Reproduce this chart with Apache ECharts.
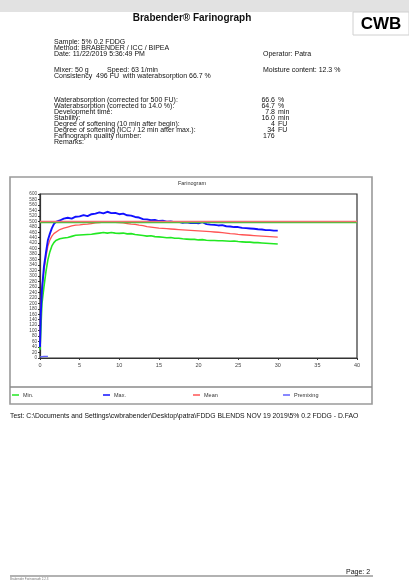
<!DOCTYPE html>
<html>
<head>
<meta charset="utf-8">
<script src="https://cdn.jsdelivr.net/npm/echarts@6/dist/echarts.min.js"></script>
<style>
html,body{margin:0;padding:0;background:#fff;}
#c{width:409px;height:580px;}
</style>
</head>
<body>
<div id="c"></div>
<script>
// ---- data ----
var times = [0,0.1,0.25,0.5,0.75,1,1.25,1.5,1.75,2,2.5,3,3.5,4,4.5,5,5.5,6,6.5,7,7.5,8,8.5,9,9.5,10,10.5,11,11.5,12,12.5,13,13.5,14,14.5,15,15.5,16,16.5,17,17.5,18,18.5,19,19.5,20,20.5,21,21.5,22,22.5,23,23.5,24,24.5,25,25.5,26,26.5,27,27.5,28,28.5,29,29.5,30];
var maxVals = [40,160,250,335,385,432,455,475,490,498,503,510,513,510,517,518,523,519,526,528,533,529,535,530,531,526,528,522,521,516,514,508,507,504,505,501,502,499,500,497,498,495,496,494,495,493,497,490,488,487,485,486,482,481,479,479,476,475,474,473,471,470,468,468,466,466];
var meanVals = [60,170,260,320,370,410,432,446,455,462,470,475,479,483,486,487,489,490,492,494,495,497,498,497,496,495,494,492,490,489,486,484,481,479,477,475,474,473,472,471,470,469,468,467,466,465,464,463,462,461,460,459,457,455,454,452,451,450,449,448,447,446,445,444,443,442];
var minVals = [30,100,200,260,316,360,389,410,422,430,436,439,441,445,449,450,451,452,453,455,457,459,457,459,457,456,457,454,455,452,450,448,446,447,444,443,442,440,441,438,438,436,435,434,434,432,433,431,430,430,429,429,428,427,428,426,425,424,424,422,422,421,420,419,418,417];
var premixTimes = [0,0.5,1];
var premixVals = [4,6,6];
var refTarget = 500;
var refConsistency = 495;
var xTicks = {min:0,max:40,step:5};
var yTicks = {min:0,max:600,step:20};
var seriesNames = ['Min.','Max.','Mean','Premixing'];

var headerLeft = [
  ['Sample: 5% 0.2 FDDG', 42],
  ['Method: BRABENDER / ICC / BIPEA', 48],
  ['Date: 11/22/2019 5:36:49 PM', 54],
  ['Mixer: 50 g', 70],
  ['Consistency  496 FU  with waterabsorption 66.7 %', 76.5]
];
var resultLabels = ['Waterabsorption (corrected for 500 FU):','Waterabsorption (corrected to 14.0 %):','Development time:','Stability:','Degree of softening (10 min after begin):','Degree of softening (ICC / 12 min after max.):','Farinograph quality number:','Remarks:'];
var resultValues = ['66.6','64.7','7.8','16.0','4','34','',''];
var resultUnits = ['%','%','min','min','FU','FU','',''];

function pairs(xs, ys){ return xs.map(function(x,i){ return [x, ys[i]]; }); }

var FONT = '"Liberation Sans", Arial, sans-serif';
var g = [];
function txt(s, x, y, opt){
  opt = opt || {};
  g.push({type:'text', x:x, y:y, silent:true, style:{
    text:s, fill:opt.fill||'#111', font:(opt.weight||'normal')+' '+(opt.size||7)+'px '+FONT,
    textAlign:opt.align||'left', textVerticalAlign:'middle'}, z:10});
}
// top gray band
g.push({type:'rect', shape:{x:0,y:0,width:409,height:12}, style:{fill:'#e2e2e2'}, silent:true});
// title
txt('Brabender\u00ae Farinograph', 192, 18, {size:10, weight:'bold', align:'center'});
// logo
g.push({type:'rect', shape:{x:353,y:12,width:56,height:23}, style:{fill:'#fff', stroke:'#d0d0d0', lineWidth:1}, silent:true});
txt('CWB', 381, 24, {size:17, weight:'900', align:'center', fill:'#000'});
headerLeft.forEach(function(h){ txt(h[0], 54, h[1]); });
txt('Speed: 63 1/min', 107, 70);
txt('Operator: Patra', 263, 54);
txt('Moisture content: 12.3 %', 263, 70);
resultLabels.forEach(function(l,i){
  var y = 100 + i*6;
  txt(l, 54, y);
  if(resultValues[i]) txt(resultValues[i], 275, y, {align:'right'});
  if(resultUnits[i]) txt(resultUnits[i], 278, y);
});
txt('176', 263, 136);
// chart frame
g.push({type:'rect', shape:{x:10,y:177,width:362,height:227}, style:{fill:'none', stroke:'#9a9a9a', lineWidth:1.6}, silent:true});
g.push({type:'line', shape:{x1:10,y1:387,x2:372,y2:387}, style:{stroke:'#8a8a8a', lineWidth:1.6}, silent:true});
txt('Farinogram', 192, 183, {size:5.5, align:'center', fill:'#333'});
// test line
txt('Test: C:\\Documents and Settings\\cwbrabender\\Desktop\\patra\\FDDG BLENDS NOV 19 2019\\5% 0.2 FDDG - D.FAO', 10, 416, {size:6.8});
// footer
txt('Page: 2', 346, 572, {size:7});
g.push({type:'line', shape:{x1:10,y1:576,x2:373,y2:576}, style:{stroke:'#999', lineWidth:1.5}, silent:true});
txt('Brabender Farinograph 2.2.3', 10, 579, {size:3, fill:'#777'});

var colors = {min:'#22e822', max:'#1010ff', mean:'#ff5555', pre:'#6060ff'};

function legendAt(name, left, color){
  return {data:[{name:name, itemStyle:{color:color}}], left:left, top:392, padding:0, icon:'rect', itemWidth:7, itemHeight:1.5, itemGap:4,
    textStyle:{fontSize:5.5, color:'#333', fontFamily:FONT, padding:[0,0,0,-1]}, selectedMode:false};
}

var chart = echarts.init(document.getElementById('c'), null, {renderer:'canvas'});
chart.setOption({
  animation:false,
  backgroundColor:'#fff',
  grid:{left:40, top:194, width:317, height:164, show:true, borderColor:'#333', borderWidth:1.2, backgroundColor:'#fff'},
  legend:[legendAt(seriesNames[0],12,colors.min), legendAt(seriesNames[1],103,colors.max), legendAt(seriesNames[2],193,colors.mean), legendAt(seriesNames[3],283,colors.pre)],
  xAxis:{type:'value', min:xTicks.min, max:xTicks.max, interval:xTicks.step,
    axisLine:{show:true, lineStyle:{color:'#333', width:1.2}},
    axisTick:{show:true, length:2, lineStyle:{color:'#333'}},
    axisLabel:{fontSize:5.5, color:'#444', margin:4, fontFamily:FONT},
    splitLine:{show:false}},
  yAxis:{type:'value', min:yTicks.min, max:yTicks.max, interval:yTicks.step,
    axisLine:{show:true, lineStyle:{color:'#333', width:1.2}},
    axisTick:{show:true, length:2, lineStyle:{color:'#333'}},
    axisLabel:{fontSize:4.6, color:'#444', margin:3, fontFamily:FONT},
    splitLine:{show:false}},
  series:[
    {name:seriesNames[0], type:'line', data:pairs(times,minVals), showSymbol:false, color:colors.min, lineStyle:{width:1.6, color:colors.min}, z:3,
     markLine:{silent:true, symbol:'none', label:{show:false}, lineStyle:{color:'#33cc33', width:1.3, type:'solid'}, data:[{yAxis:refConsistency}]}},
    {name:seriesNames[1], type:'line', data:pairs(times,maxVals), showSymbol:false, color:colors.max, lineStyle:{width:1.9, color:colors.max}, z:4},
    {name:seriesNames[2], type:'line', data:pairs(times,meanVals), showSymbol:false, color:colors.mean, lineStyle:{width:1.3, color:colors.mean}, z:3,
     markLine:{silent:true, symbol:'none', label:{show:false}, lineStyle:{color:'#f07070', width:1.3, type:'solid'}, data:[{yAxis:refTarget}]}},
    {name:seriesNames[3], type:'line', data:pairs(premixTimes,premixVals), showSymbol:false, color:colors.pre, lineStyle:{width:1.1, color:colors.pre}, z:4}
  ],
  graphic:g
});
</script>
</body>
</html>
